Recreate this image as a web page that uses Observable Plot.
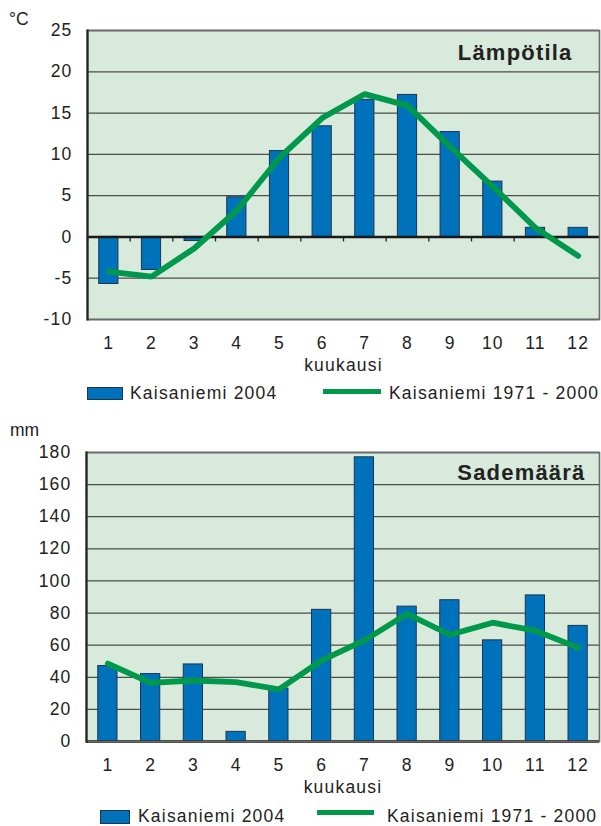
<!DOCTYPE html>
<html><head><meta charset="utf-8">
<script src="https://cdn.jsdelivr.net/npm/d3@7"></script>
<script src="https://cdn.jsdelivr.net/npm/@observablehq/plot@0.6"></script>
<style>
body{margin:0;background:#fff;font-family:"Liberation Sans",Arial,sans-serif;color:#222;}
#wrap{position:relative;width:601px;height:826px;overflow:hidden;}
#wrap svg{position:absolute;left:0;}
#wrap svg text{letter-spacing:1.2px;}
g[aria-label="title"] text{letter-spacing:0.5px;}
g[aria-label="x-axis label"] text{letter-spacing:2.6px;}
.lab{position:absolute;font-size:17.5px;letter-spacing:1.2px;white-space:nowrap;line-height:20px;}
.unit{position:absolute;font-size:17.5px;line-height:20px;}
.sw{position:absolute;box-sizing:border-box;}
</style></head><body><div id="wrap"></div>
<script>
const months = [1,2,3,4,5,6,7,8,9,10,11,12];
const temp2004 = [-5.7,-4.0,-0.5,4.8,10.4,13.4,16.6,17.2,12.7,6.7,1.1,1.1];
const tempNormal = [-4.2,-4.8,-1.4,3.2,9.6,14.4,17.3,15.9,10.9,6.1,1.1,-2.3];
const rain2004 = [47,42,48,6,33,82,177,84,88,63,91,72];
const rainNormal = [48.5,36.5,38,37,32.5,50.5,63,79.5,66.5,74,69,58.5];
const tempTicks = [-10,-5,0,5,10,15,20,25];
const rainTicks = [0,20,40,60,80,100,120,140,160,180];
const seriesNames = ["Kaisaniemi 2004","Kaisaniemi 1971 - 2000"];
const titles = ["Lämpötila","Sademäärä"];
const units = ["°C","mm"];
const xLabel = "kuukausi";

const BLUE = "#0072bc", BAR_STROKE = "#1d3550", GREEN = "#00994c", BG = "#d8eadc", GRID = "#4d4d4d";
const W = 601;

function chart({values, normals, ticks, title, mL, mT, mB, H, zeroMid, titleDx, titleDy}) {
  const mR = 2;
  const step = (W - mL - mR) / months.length;
  const data = months.map((m, i) => ({month: m, value: values[i], normal: normals[i]}));
  const marks = [
    Plot.frame({fill: BG, stroke: null}),
    Plot.gridY(ticks, {stroke: GRID, strokeOpacity: 1, strokeWidth: 1.3}),
    Plot.barY(data, {x: "month", y: "value", fill: BLUE, stroke: BAR_STROKE, strokeWidth: 1})
  ];
  if (zeroMid) {
    marks.push(Plot.ruleX(months, {x: d => d, y1: 0, y2: 0, insetBottom: -5, dx: -step / 2, stroke: "#222", strokeWidth: 1.3}));
  }
  marks.push(
    Plot.ruleY([0], {stroke: "#1a1a1a", strokeWidth: 2.6}),
    Plot.lineY(data, {x: "month", y: "normal", stroke: GREEN, strokeWidth: 5.8, strokeLinejoin: "miter"}),
    Plot.frame({stroke: "#6a6a6a", strokeWidth: 1.6}),
    Plot.frame({anchor: "left", stroke: "#222", strokeWidth: 2.2}),
    Plot.axisY({ticks, tickSize: 0, tickPadding: 15, label: null, tickFormat: d => `${d}`}),
    Plot.axisX({tickSize: 0, tickPadding: 17, label: xLabel, labelAnchor: "center", labelArrow: "none", labelOffset: 51}),
    Plot.text([title], {frameAnchor: "top-right", dx: titleDx, dy: titleDy, lineAnchor: "top", textAnchor: "end",
      fontWeight: "bold", fontSize: 22, fill: "#222", ariaLabel: "title"})
  );
  return Plot.plot({
    width: W, height: H, marginLeft: mL, marginRight: mR, marginTop: mT, marginBottom: mB,
    style: {fontSize: "17.5px", fontFamily: "'Liberation Sans', Arial, sans-serif", color: "#222", background: "transparent", overflow: "visible"},
    x: {type: "band", domain: months, paddingInner: 0.55, paddingOuter: 0.275, align: 0.5, round: false},
    y: {domain: [ticks[0], ticks[ticks.length - 1]]},
    marks
  });
}

const wrap = document.getElementById("wrap");
const c1 = chart({values: temp2004, normals: tempNormal, ticks: tempTicks, title: titles[0],
  mL: 87, mT: 30, mB: 57, H: 376, zeroMid: true, titleDx: -27, titleDy: 14});
c1.style.top = "0px";
wrap.appendChild(c1);
const c2 = chart({values: rain2004, normals: rainNormal, ticks: rainTicks, title: titles[1],
  mL: 86, mT: 44, mB: 58, H: 391, zeroMid: false, titleDx: -14, titleDy: 12});
c2.style.top = "408px";
wrap.appendChild(c2);

function el(cls, css, text) {
  const d = document.createElement("div");
  d.className = cls;
  Object.assign(d.style, css);
  if (text != null) d.textContent = text;
  wrap.appendChild(d);
  return d;
}
// unit labels
el("unit", {left: "9px", top: "9px"}, units[0]);
el("unit", {left: "10px", top: "420px"}, units[1]);
// legend 1
el("sw", {left: "87px", top: "387px", width: "36px", height: "13px", background: BLUE, border: "1px solid " + BAR_STROKE});
el("lab", {left: "130px", top: "383px"}, seriesNames[0]);
el("sw", {left: "323px", top: "389px", width: "58px", height: "5px", background: GREEN});
el("lab", {left: "389px", top: "383px"}, seriesNames[1]);
// legend 2
el("sw", {left: "100px", top: "810px", width: "30px", height: "14px", background: BLUE, border: "1px solid " + BAR_STROKE});
el("lab", {left: "138px", top: "806px"}, seriesNames[0]);
el("sw", {left: "317px", top: "810px", width: "57px", height: "5px", background: GREEN});
el("lab", {left: "387px", top: "806px"}, seriesNames[1]);
</script></body></html>
